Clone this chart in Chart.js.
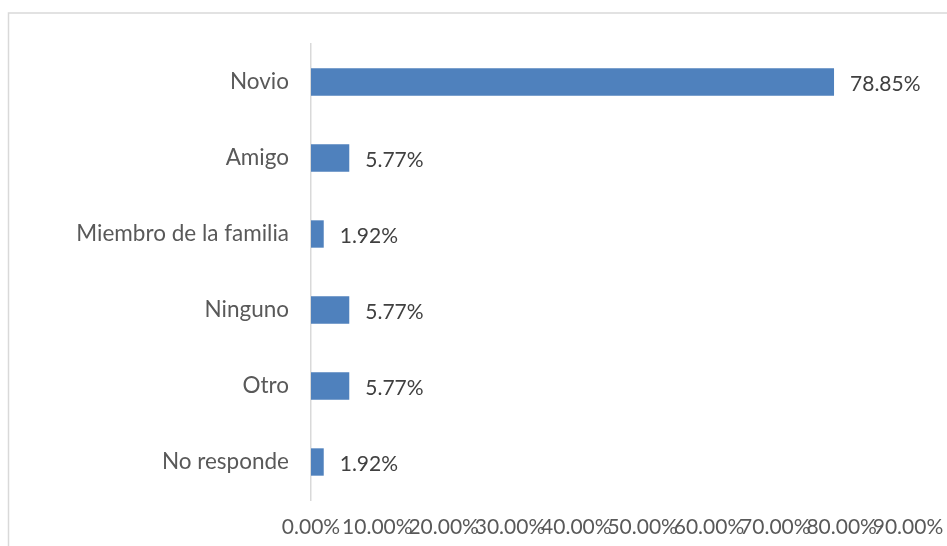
<!DOCTYPE html>
<html>
<head>
<meta charset="utf-8">
<script src="https://cdn.jsdelivr.net/npm/chart.js@4/dist/chart.umd.min.js"></script>
<style>
html,body{margin:0;padding:0;background:#fff;}
#wrap{position:relative;width:947px;height:546px;}
</style>
</head>
<body>
<div id="wrap"><canvas id="c" width="947" height="546"></canvas></div>
<script>
const categories = ["Novio", "Amigo", "Miembro de la familia", "Ninguno", "Otro", "No responde"];
const values = [78.85, 5.77, 1.92, 5.77, 5.77, 1.92];
const tickMin = 0;
const tickMax = 90;
const tickStep = 10;

const FONT = "Lato, 'Liberation Sans', sans-serif";

const frame = {
  id: 'frame',
  beforeDraw(chart) {
    const ctx = chart.ctx;
    ctx.save();
    ctx.fillStyle = '#ffffff';
    ctx.fillRect(0, 0, chart.width, chart.height);
    ctx.strokeStyle = '#d9d9d9';
    ctx.lineWidth = 1.5;
    ctx.strokeRect(8.5, 13, 1000, 1000);
    ctx.restore();
  }
};

const valueLabels = {
  id: 'valueLabels',
  afterDatasetsDraw(chart) {
    const ctx = chart.ctx;
    const meta = chart.getDatasetMeta(0);
    ctx.save();
    ctx.font = "21px " + FONT;
    ctx.fillStyle = '#404040';
    ctx.textAlign = 'left';
    ctx.textBaseline = 'middle';
    meta.data.forEach((bar, i) => {
      ctx.fillText(values[i].toFixed(2) + '%', bar.x + 16, bar.y + 2);
    });
    ctx.restore();
  }
};

new Chart(document.getElementById('c'), {
  type: 'bar',
  data: {
    labels: categories,
    datasets: [{
      data: values,
      backgroundColor: '#4f81bd',
      borderWidth: 0,
      barPercentage: 0.36,
      categoryPercentage: 1.0
    }]
  },
  options: {
    indexAxis: 'y',
    responsive: false,
    animation: false,
    devicePixelRatio: 1,
    layout: { padding: { left: 0, right: 39, top: 44, bottom: 0 } },
    plugins: {
      legend: { display: false },
      tooltip: { enabled: false }
    },
    scales: {
      x: {
        min: tickMin,
        max: tickMax,
        ticks: {
          stepSize: tickStep,
          autoSkip: false,
          maxRotation: 0,
          minRotation: 0,
          padding: 15,
          color: '#595959',
          font: { family: FONT, size: 21 },
          callback: v => Number(v).toFixed(2) + '%'
        },
        grid: { display: false, drawTicks: false },
        border: { display: false },
        afterFit(s) { s.height = 46; s.paddingRight = 0; s.paddingLeft = 0; }
      },
      y: {
        ticks: {
          padding: 22,
          color: '#595959',
          font: { family: FONT, size: 22.5 }
        },
        grid: { display: false, drawTicks: false },
        border: { display: true, color: '#d9d9d9', width: 1.5 },
        afterFit(s) { s.width = 311; }
      }
    }
  },
  plugins: [frame, valueLabels]
});
</script>
</body>
</html>
